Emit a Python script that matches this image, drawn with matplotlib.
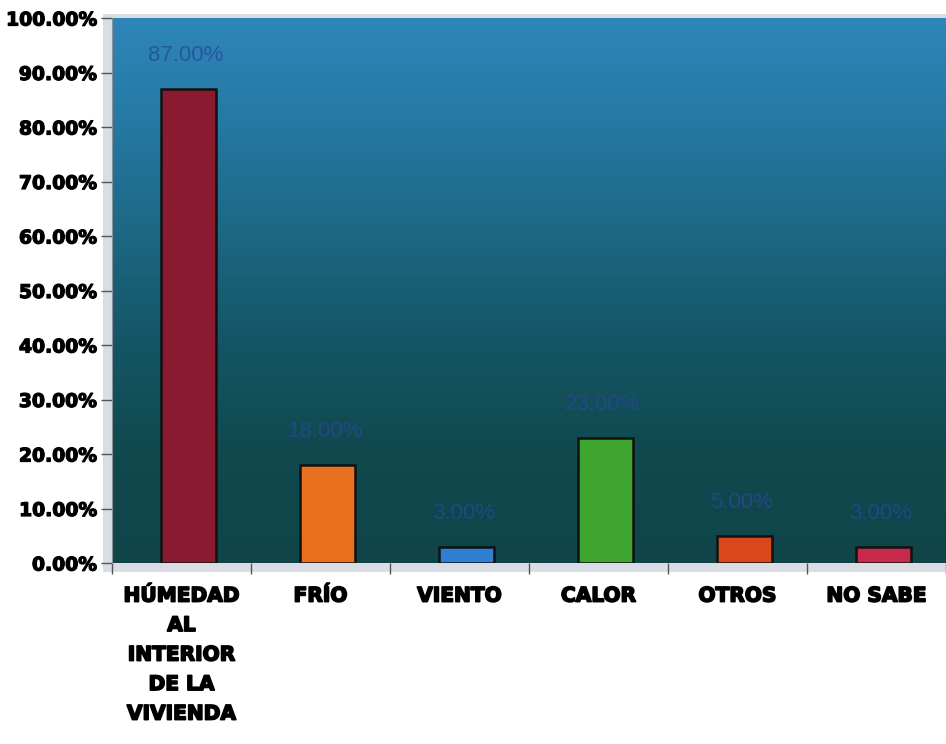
import numpy as np
import matplotlib.pyplot as plt
import matplotlib.patheffects as pe
from matplotlib.colors import LinearSegmentedColormap
from matplotlib.patches import Rectangle

# Datos
categorias = ['HÚMEDAD\nAL\nINTERIOR\nDE LA\nVIVIENDA', 'FRÍO', 'VIENTO', 'CALOR', 'OTROS', 'NO SABE']
porcentajes = [87.0, 18.0, 3.0, 23.0, 5.0, 3.0]
colores = ['#8a1a2f', '#e8701f', '#2f7fd3', '#3ea52f', '#d9481a', '#c82a4c']
yticks = [0, 10, 20, 30, 40, 50, 60, 70, 80, 90, 100]

W, H = 946, 744
fig = plt.figure(figsize=(W / 100, H / 100), dpi=100)

def fx(px):
	return px / W

def fy(py):
	return 1 - py / H

# pared gris (efecto 3D)
fig.patches.append(Rectangle((fx(103), fy(572)), fx(946 - 103), (572 - 14) / H,
	transform=fig.transFigure, facecolor='#d9dde4', edgecolor='none', zorder=-5))

ax = fig.add_axes([fx(112), fy(563), fx(946 - 112), (563 - 18) / H])
ax.set_xlim(-0.5, 5.5)

# fondo degradado azul -> verde azulado
cmap = LinearSegmentedColormap.from_list('fondo', ['#2e86b9', '#2578a2', '#1c6783', '#145564', '#10494e', '#0f4549'])
grad = np.linspace(0, 1, 256).reshape(-1, 1)
ax.imshow(grad, extent=(-0.5, 5.5, 0, 100), aspect='auto', cmap=cmap, zorder=0)
ax.set_ylim(0, 100)

x = np.arange(len(categorias)) + 0.05
ax.bar(x, porcentajes, width=0.4, color=colores, edgecolor='#111111', linewidth=1.8, zorder=2)

for xi, v in zip(x, porcentajes):
	ax.text(xi - 0.02, v + 4.2, f'{v:.2f}%', ha='center', va='bottom', fontsize=16,
		color='#28479a', alpha=0.75, fontfamily='Liberation Sans', zorder=3)

ax.set_yticks(yticks)
ax.set_yticklabels([f'{t:.2f}%' for t in yticks], fontsize=13.5, fontweight='bold',
	fontfamily='DejaVu Sans', path_effects=[pe.withStroke(linewidth=0.9, foreground='black')])
ax.tick_params(axis='y', length=8, width=1, color='#555555', pad=3)

ax.set_xticks(np.arange(len(categorias)))
ax.set_xticklabels(categorias, fontsize=14.5, fontweight='bold', fontfamily='DejaVu Sans',
	linespacing=1.7, path_effects=[pe.withStroke(linewidth=1.2, foreground='black')])
ax.tick_params(axis='x', which='major', length=0, pad=17)
ax.set_xticks(np.arange(len(categorias) + 1) - 0.5, minor=True)
ax.tick_params(axis='x', which='minor', length=8, width=1, color='#555555')

for s in ['top', 'right', 'bottom']:
	ax.spines[s].set_visible(False)
ax.spines['left'].set_color('#8a9098')

fig.savefig('out.png', dpi=100)
